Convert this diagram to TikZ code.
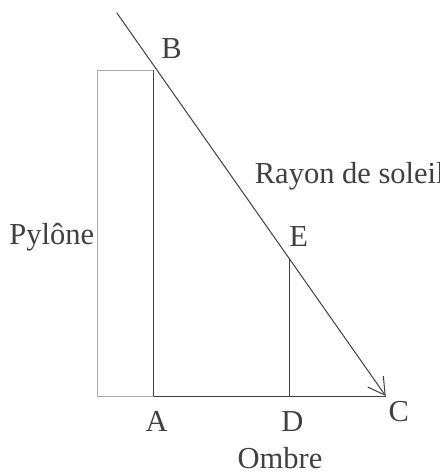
\documentclass[tikz,border=0pt]{standalone}
\usepackage{fontspec}
\setmainfont{Liberation Serif}
\usepackage{tikz}
\usetikzlibrary{arrows.meta,positioning}
\definecolor{edge}{RGB}{64,64,64}
\definecolor{pale}{RGB}{170,170,170}

\begin{document}
\begin{tikzpicture}[
      x=0.5pt, y=-0.5pt,
      label/.style={inner sep=0pt, anchor=base, text=edge, font=\fontsize{15.25}{18}\selectfont},
      line/.style={draw=edge, line width=0.5pt},
      ray/.style={line, -{Straight Barb[length=8.3pt, width=9.5pt, line width=0.5pt]}},
      pylon/.style={draw=pale, line width=0.5pt}
    ]
    \useasboundingbox (0,0) rectangle (440,473);
    % Points of the figure
    \coordinate (S) at (116.7,12.7);
    \coordinate (B) at (154,70);
    \coordinate (A) at (154,396);
    \coordinate (D) at (289.3,396);
    \coordinate (E) at (289.3,258.6);
    \coordinate (C) at (385.7,396);
    \coordinate (P) at (98,70);

    % Pylon outline
    \draw[pylon] (B) -- (P) |- (A);
    \draw[line] (A) -- (B);

    % Ground, small post and sun ray
    \draw[line] (A) -- (C);
    \draw[line] (D) -- (E);
    \draw[ray] (S) -- (C);

    % Labels
    \node[label] (lblB) at (171.5,58.3) {B};
    \node[label] (lblA) at (156.7,431) {A};
    \node[label] (lblD) at (292.5,431) {D};
    \node[label] (lblC) at (398.8,421.7) {C};
    \node[label] (lblE) at (298.8,246) {E};
    \node[label] (pylone) at (51.7,244) {Pylône};
    \node[label] (ombre) at (280,468.3) {Ombre};
    \node[label, anchor=base west] (rayon) at (254.5,183.3) {Rayon de soleil};
\end{tikzpicture}
\end{document}
